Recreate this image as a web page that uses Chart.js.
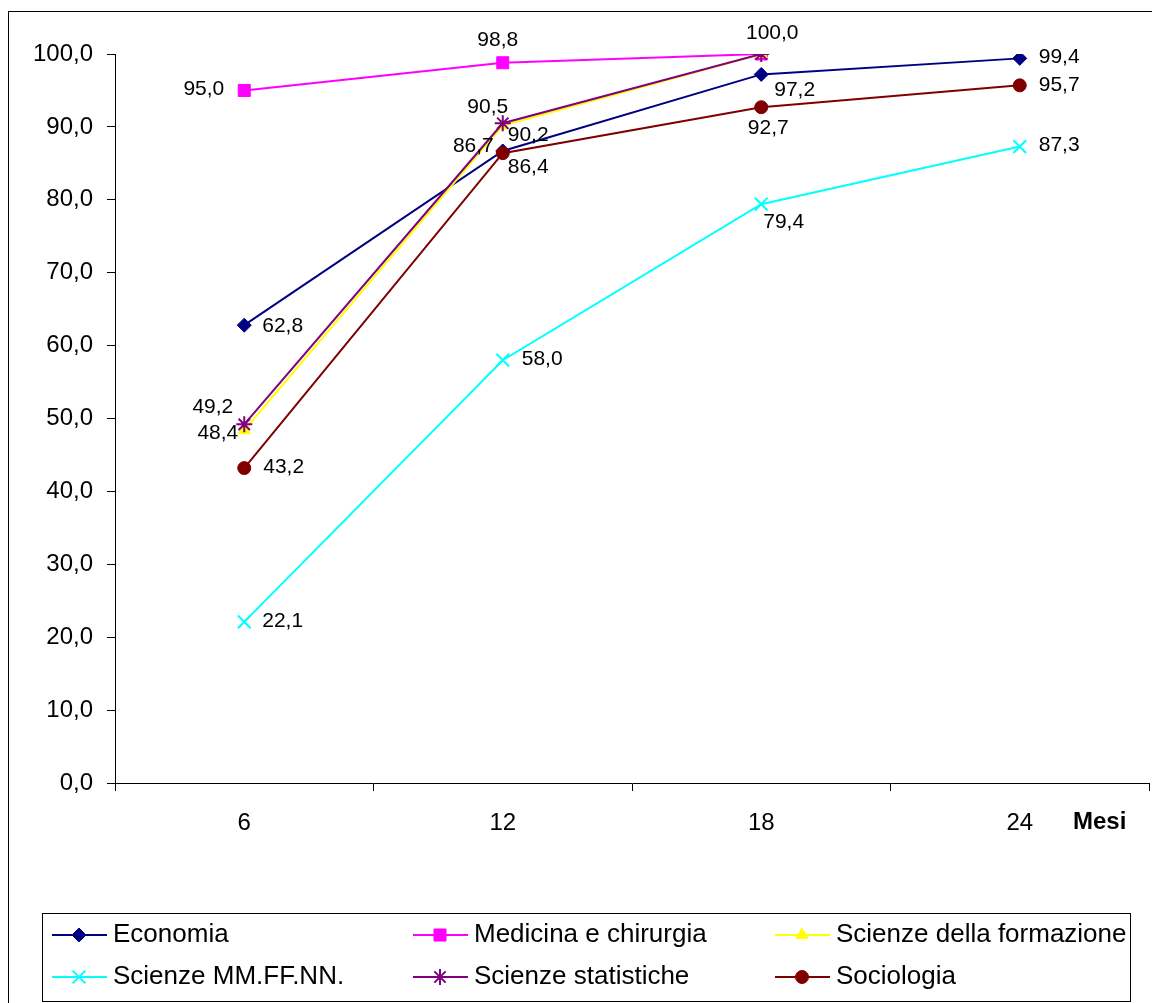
<!DOCTYPE html>
<html>
<head>
<meta charset="utf-8">
<script src="https://cdn.jsdelivr.net/npm/chart.js@4.4.1/dist/chart.umd.min.js"></script>
<style>
  html, body { margin: 0; padding: 0; background: #fff; overflow: hidden; }
  #frame { width: 1152px; height: 1003px; overflow: hidden; position: relative; }
  #wrap { width: 1160px; height: 1003px; position: relative; }
</style>
</head>
<body>
<div id="frame"><div id="wrap"><canvas id="c"></canvas></div></div>
<script>
// Months after graduation
const months = ['6', '12', '18', '24'];

// Share (%) per faculty
const economia    = [62.8, 86.7, 97.2, 99.4];
const medicina    = [95.0, 98.8, 100.0, null];
const formazione  = [48.4, 90.2, 100.0, null];
const mmffnn      = [22.1, 58.0, 79.4, 87.3];
const statistiche = [49.2, 90.5, 100.0, null];
const sociologia  = [43.2, 86.4, 92.7, 95.7];

const seriesNames = ['Economia', 'Medicina e chirurgia', 'Scienze della formazione',
                     'Scienze MM.FF.NN.', 'Scienze statistiche', 'Sociologia'];
const seriesValues = [economia, medicina, formazione, mmffnn, statistiche, sociologia];

// Value axis
const yMin = 0, yMax = 100, yStep = 10;
const xAxisTitle = 'Mesi';

const FONT = '"Liberation Sans", Arial, sans-serif';
const fmt = v => v.toFixed(1).replace('.', ',');

// Visual style per series
const styles = [
  { color: '#000080', pointStyle: 'rectRot',  radius: 7,   bw: 1 },
  { color: '#FF00FF', pointStyle: 'rect',     radius: 8.5, bw: 1 },
  { color: '#FFFF00', pointStyle: 'triangle', radius: 7,   bw: 1 },
  { color: '#00FFFF', pointStyle: 'crossRot', radius: 9,   bw: 2 },
  { color: '#800080', pointStyle: 'star',     radius: 8,   bw: 2 },
  { color: '#800000', pointStyle: 'circle',   radius: 6.5, bw: 1 }
];

// Where each value label sits relative to its point: [align, dx, dy]; null = no label
const labelPlacement = [
  [['left', 18, 1],  ['right', -9, -5], ['left', 13, 16],  ['left', 19, -1]],
  [['right', -20, -1], ['center', -5, -23], ['center', 11, -21], null],
  [['right', -6, 3], ['left', 5, 10], null, null],
  [['left', 18, -1], ['left', 19, -1], ['left', 2, 18], ['left', 19, -1]],
  [['right', -11, -17], ['center', -15, -16], null, null],
  [['left', 19, -1], ['left', 5, 14], ['center', 7, 21], ['left', 19, 0]]
];

const datasets = seriesNames.map((name, i) => ({
  label: name,
  data: seriesValues[i],
  borderColor: styles[i].color,
  backgroundColor: styles[i].color,
  borderWidth: 2,
  pointStyle: styles[i].pointStyle,
  pointRadius: styles[i].radius,
  pointHoverRadius: styles[i].radius,
  pointBorderWidth: styles[i].bw,
  pointBackgroundColor: styles[i].color,
  pointBorderColor: styles[i].color,
  tension: 0,
  spanGaps: false,
  order: seriesNames.length - i
}));

// Value labels next to points
const valueLabels = {
  id: 'valueLabels',
  afterDatasetsDraw(chart) {
    const ctx = chart.ctx;
    ctx.save();
    ctx.font = '21px ' + FONT;
    ctx.fillStyle = '#000';
    ctx.textBaseline = 'middle';
    chart.data.datasets.forEach((ds, i) => {
      const meta = chart.getDatasetMeta(i);
      meta.data.forEach((pt, j) => {
        const v = ds.data[j];
        const pl = labelPlacement[i][j];
        if (v == null || !pl) return;
        ctx.textAlign = pl[0];
        ctx.fillText(fmt(v), pt.x + pl[1], pt.y + pl[2]);
      });
    });
    ctx.restore();
  }
};

// Outer frame, axis caption and boxed legend
const decorations = {
  id: 'decorations',
  afterDraw(chart) {
    const ctx = chart.ctx;
    const h = Chart.helpers;
    ctx.save();
    ctx.strokeStyle = '#000';
    ctx.lineWidth = 1;
    ctx.strokeRect(8.5, 11.5, 1300, 1300);

    ctx.font = 'bold 24px ' + FONT;
    ctx.fillStyle = '#000';
    ctx.textAlign = 'left';
    ctx.textBaseline = 'middle';
    ctx.fillText(xAxisTitle, 1073, 822);

    // legend box
    ctx.strokeRect(42.5, 913.5, 1088, 88);
    const cols = [52, 413, 775];
    const rows = [935, 977];
    ctx.font = '26px ' + FONT;
    chart.data.datasets.forEach((ds, i) => {
      const x = cols[i % 3], y = rows[Math.floor(i / 3)];
      const st = styles[i];
      ctx.strokeStyle = st.color;
      ctx.fillStyle = st.color;
      ctx.lineWidth = 2;
      ctx.beginPath();
      ctx.moveTo(x, y);
      ctx.lineTo(x + 55, y);
      ctx.stroke();
      ctx.lineWidth = st.bw;
      h.drawPoint(ctx, { pointStyle: st.pointStyle, radius: st.radius, rotation: 0, borderWidth: st.bw }, x + 27, y);
      ctx.fillStyle = '#000';
      ctx.fillText(ds.label, x + 61, y);
    });
    ctx.restore();
  }
};

new Chart(document.getElementById('c'), {
  type: 'line',
  data: { labels: months, datasets },
  options: {
    responsive: true,
    maintainAspectRatio: false,
    devicePixelRatio: 1,
    animation: false,
    layout: { padding: { top: 54, right: 4, bottom: 160, left: 0 } },
    plugins: {
      legend: { display: false },
      tooltip: { enabled: false }
    },
    scales: {
      x: {
        offset: true,
        grid: { offset: true, drawOnChartArea: false, drawTicks: true, tickLength: 8, color: '#000', lineWidth: 1 },
        border: { color: '#000', width: 1 },
        ticks: { color: '#000', font: { family: FONT, size: 24 }, padding: 18, maxRotation: 0 },
        afterFit(scale) { scale.height = 60; }
      },
      y: {
        min: yMin, max: yMax,
        grid: { drawOnChartArea: false, drawTicks: true, tickLength: 8, color: '#000', lineWidth: 1 },
        border: { color: '#000', width: 1 },
        ticks: { stepSize: yStep, color: '#000', font: { family: FONT, size: 24 }, padding: 14,
                 callback: v => fmt(v) },
        afterFit(scale) { scale.width = 115; }
      }
    }
  },
  plugins: [valueLabels, decorations]
});
</script>
</body>
</html>
